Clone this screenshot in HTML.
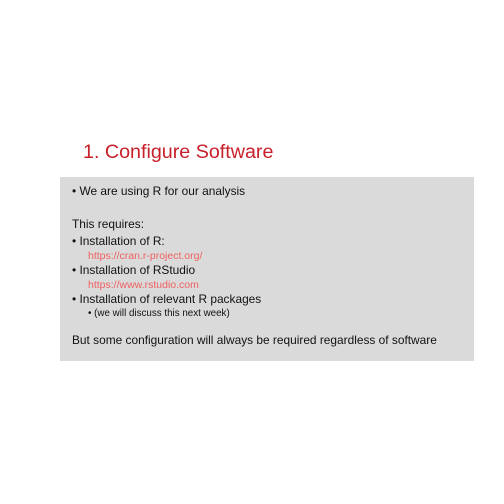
<!DOCTYPE html>
<html><head><style>
body{margin:0;width:504px;height:504px;background:#fff;position:relative;font-family:"Liberation Sans",sans-serif;overflow:hidden}
.t{position:absolute;white-space:nowrap;line-height:1}
.box{position:absolute;left:60px;top:177px;width:414px;height:184px;background:#dadada}
.n{font-size:11.9px;color:#111}
.l{font-size:10.5px;color:#f06060}
</style></head><body>
<div class="t" style="left:83px;top:143px;font-size:19.7px;color:#c8202a">1. Configure Software</div>
<div class="box"></div>
<div class="t n" style="left:72px;top:186px">• We are using R for our analysis</div>
<div class="t n" style="left:72px;top:219px">This requires:</div>
<div class="t n" style="left:72px;top:236px">• Installation of R:</div>
<div class="t l" style="left:88px;top:251px">https://cran.r-project.org/</div>
<div class="t n" style="left:72px;top:265px">• Installation of RStudio</div>
<div class="t l" style="left:88px;top:280px">https://www.rstudio.com</div>
<div class="t n" style="left:72px;top:294px">• Installation of relevant R packages</div>
<div class="t" style="left:88px;top:309px;font-size:9.8px;color:#111">• (we will discuss this next week)</div>
<div class="t n" style="left:72px;top:335px">But some configuration will always be required regardless of software</div>
</body></html>
